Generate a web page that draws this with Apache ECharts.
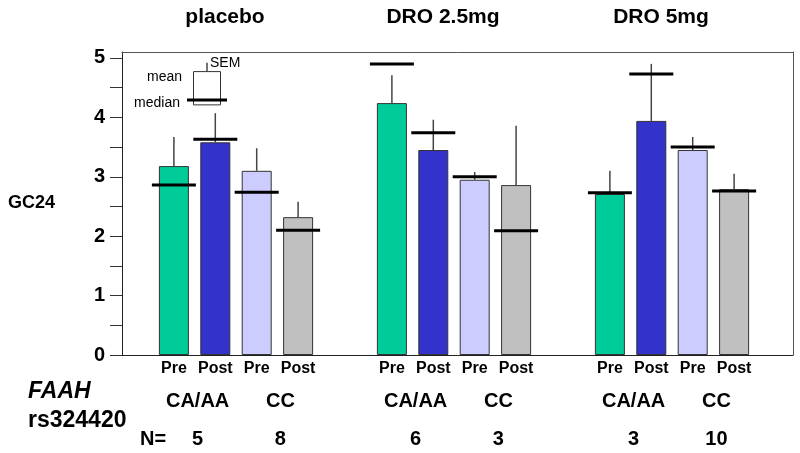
<!DOCTYPE html>
<html>
<head>
<meta charset="utf-8">
<script src="https://cdn.jsdelivr.net/npm/echarts@6/dist/echarts.min.js"></script>
<style>
  html, body { margin: 0; padding: 0; background: #fff; }
  #container { width: 800px; height: 453px; }
</style>
</head>
<body>
<div id="container"></div>
<script>
// groups and bar kinds
var groups = ['placebo', 'DRO 2.5mg', 'DRO 5mg'];
var barNames = ['Pre', 'Post', 'Pre', 'Post'];
var genotypes = ['CA/AA', 'CC'];
var nCounts = [[5, 8], [6, 3], [3, 10]];

// mean GC24 per group (placebo, DRO 2.5mg, DRO 5mg)
var meanPreCA = [3.18, 4.24, 2.71];
var meanPostCA = [3.58, 3.45, 3.94];
var meanPreCC = [3.10, 2.95, 3.45];
var meanPostCC = [2.32, 2.86, 2.79];

// SEM
var semPreCA = [0.49, 0.47, 0.39];
var semPostCA = [0.49, 0.51, 0.96];
var semPreCC = [0.38, 0.13, 0.22];
var semPostCC = [0.26, 1.00, 0.26];

// medians
var medPreCA = [2.86, 4.90, 2.73];
var medPostCA = [3.63, 3.74, 4.73];
var medPreCC = [2.74, 3.00, 3.50];
var medPostCC = [2.10, 2.09, 2.76];

// key box (mean / SEM / median sample)
var keyBase = 4.21, keyMean = 4.77, keySem = 0.15, keyMedian = 4.29;

// y axis ticks
var yTicks = [0, 0.5, 1, 1.5, 2, 2.5, 3, 3.5, 4, 4.5, 5];
var yLabels = [0, 1, 2, 3, 4, 5];

var means = [meanPreCA, meanPostCA, meanPreCC, meanPostCC];
var sems = [semPreCA, semPostCA, semPreCC, semPostCC];
var meds = [medPreCA, medPostCA, medPreCC, medPostCC];
var colors = ['#00CC99', '#3333CC', '#CCCCFF', '#C0C0C0'];

var FONT = '"Liberation Sans", Arial, sans-serif';
var BAR_W = 30, BAR_GAP = 0.38;
var STEP = BAR_W * (1 + BAR_GAP);

var dom = document.getElementById('container');
var myChart = echarts.init(dom, null, {renderer: 'canvas'});

var series = [];
// bars
barNames.forEach(function (name, k) {
    series.push({
        type: 'bar',
        name: name,
        xAxisIndex: 2,
        yAxisIndex: 2,
        data: means[k],
        barWidth: BAR_W,
        barGap: (BAR_GAP * 100) + '%',
        itemStyle: {color: colors[k], borderColor: '#333', borderWidth: 1},
        label: {
            show: true, position: 'bottom', distance: 6, formatter: name,
            color: '#000', fontSize: 16, fontWeight: 'bold', fontFamily: FONT
        },
        z: 2
    });
});

// SEM whiskers + median lines
var statRows = [];
for (var g = 0; g < groups.length; g++) {
    for (var k = 0; k < 4; k++) {
        statRows.push([g, means[k][g], sems[k][g], meds[k][g], k]);
    }
}
series.push({
    type: 'custom',
    xAxisIndex: 2,
    yAxisIndex: 2,
    encode: {x: 0, y: 1},
    data: statRows,
    z: 5,
    renderItem: function (params, api) {
        var g = api.value(0), k = api.value(4);
        var p = api.coord([g, api.value(1)]);
        var xc = p[0] + (k - 1.5) * STEP;
        var yTop = api.coord([g, api.value(1) + api.value(2)])[1];
        var yMed = api.coord([g, api.value(3)])[1];
        return {
            type: 'group',
            children: [
                {type: 'line', shape: {x1: xc, y1: p[1], x2: xc, y2: yTop}, style: {stroke: '#444', lineWidth: 1.5}},
                {type: 'line', shape: {x1: xc - 22, y1: yMed, x2: xc + 22, y2: yMed}, style: {stroke: '#000', lineWidth: 3}}
            ]
        };
    }
});

// genotype + N labels under each pair
var pairRows = [];
for (var g2 = 0; g2 < groups.length; g2++) {
    pairRows.push([g2, 0, 0]);
    pairRows.push([g2, 0, 1]);
}
series.push({
    type: 'custom',
    xAxisIndex: 2,
    yAxisIndex: 2,
    encode: {x: 0, y: 1},
    data: pairRows,
    z: 5,
    renderItem: function (params, api) {
        var g = api.value(0), p = api.value(2);
        var base = api.coord([g, 0]);
        var xc = base[0] + (2 * p - 1) * STEP + 3;
        return {
            type: 'group',
            children: [
                {type: 'text', style: {text: genotypes[p], x: xc, y: base[1] + 46, align: 'center', verticalAlign: 'middle',
                    fill: '#000', font: 'bold 20px ' + FONT}},
                {type: 'text', style: {text: String(nCounts[g][p]), x: xc, y: base[1] + 84, align: 'center', verticalAlign: 'middle',
                    fill: '#000', font: 'bold 20px ' + FONT}}
            ]
        };
    }
});

// key: mean box, SEM whisker, median line
series.push({
    type: 'custom',
    xAxisIndex: 2,
    yAxisIndex: 2,
    encode: {x: 0, y: 1},
    data: [[0, keyMean]],
    z: 5,
    renderItem: function (params, api) {
        var b = api.coord([0, keyBase]);
        var xc = b[0] - 29;
        var yMean = api.coord([0, keyMean])[1];
        var ySem = api.coord([0, keyMean + keySem])[1];
        var yMed = api.coord([0, keyMedian])[1];
        var f = '14px ' + FONT;
        return {
            type: 'group',
            children: [
                {type: 'rect', shape: {x: xc - 13.5, y: yMean, width: 27, height: b[1] - yMean}, style: {fill: '#fff', stroke: '#333', lineWidth: 1}},
                {type: 'line', shape: {x1: xc, y1: yMean, x2: xc, y2: ySem}, style: {stroke: '#444', lineWidth: 1.5}},
                {type: 'line', shape: {x1: xc - 20, y1: yMed, x2: xc + 20, y2: yMed}, style: {stroke: '#000', lineWidth: 3}},
                {type: 'text', style: {text: 'SEM', x: xc + 3, y: ySem, align: 'left', verticalAlign: 'middle', fill: '#000', font: f}},
                {type: 'text', style: {text: 'mean', x: xc - 25, y: yMean + 6, align: 'right', verticalAlign: 'middle', fill: '#000', font: f}},
                {type: 'text', style: {text: 'median', x: xc - 27, y: yMed + 3, align: 'right', verticalAlign: 'middle', fill: '#000', font: f}}
            ]
        };
    }
});

var option = {
    animation: false,
    backgroundColor: '#fff',
    grid: [
        {left: 122, right: 7, top: 52, bottom: 98, outerBoundsMode: 'none'},
        {left: 127, right: 19, top: 52, bottom: 98, outerBoundsMode: 'none'}
    ],
    xAxis: [
        {gridIndex: 0, type: 'value', min: 0, max: 1, position: 'bottom',
            axisLine: {show: true, onZero: false, lineStyle: {color: '#222', width: 1}},
            axisTick: {show: false}, axisLabel: {show: false}, splitLine: {show: false}},
        {gridIndex: 0, type: 'value', min: 0, max: 1, position: 'top',
            axisLine: {show: true, onZero: false, lineStyle: {color: '#555', width: 1}},
            axisTick: {show: false}, axisLabel: {show: false}, splitLine: {show: false}},
        {gridIndex: 1, type: 'category', data: groups, position: 'bottom', show: false},
        {gridIndex: 1, type: 'category', data: groups, position: 'top',
            axisLine: {show: false}, axisTick: {show: false}, splitLine: {show: false},
            axisLabel: {color: '#000', fontSize: 21, fontWeight: 'bold', fontFamily: FONT,
                margin: 24, padding: [0, 22, 0, 0]}}
    ],
    yAxis: [
        {gridIndex: 0, type: 'value', min: 0, max: 5.1, position: 'left',
            name: 'GC24', nameLocation: 'middle', nameRotate: 0, nameGap: 67,
            nameTextStyle: {color: '#000', fontSize: 18, fontWeight: 'bold', fontFamily: FONT, align: 'right', verticalAlign: 'middle'},
            axisLine: {show: true, onZero: false, lineStyle: {color: '#222', width: 1}},
            axisTick: {show: true, length: 12, customValues: yTicks, lineStyle: {color: '#333'}},
            axisLabel: {customValues: yLabels, color: '#000', fontSize: 20, fontWeight: 'bold', fontFamily: FONT, margin: 17},
            splitLine: {show: false}},
        {gridIndex: 0, type: 'value', min: 0, max: 5.1, position: 'right',
            axisLine: {show: true, onZero: false, lineStyle: {color: '#555', width: 1}},
            axisTick: {show: false}, axisLabel: {show: false}, splitLine: {show: false}},
        {gridIndex: 1, type: 'value', min: 0, max: 5.1, show: false, splitLine: {show: false}}
    ],
    graphic: [
        {type: 'text', left: 28, top: 380, style: {text: 'FAAH', fill: '#000', font: 'italic bold 23px ' + FONT}},
        {type: 'text', left: 28, top: 409, style: {text: 'rs324420', fill: '#000', font: 'bold 23px ' + FONT}},
        {type: 'text', left: 140, top: 429, style: {text: 'N=', fill: '#000', font: 'bold 20px ' + FONT}}
    ],
    series: series
};

myChart.setOption(option);
</script>
</body>
</html>
